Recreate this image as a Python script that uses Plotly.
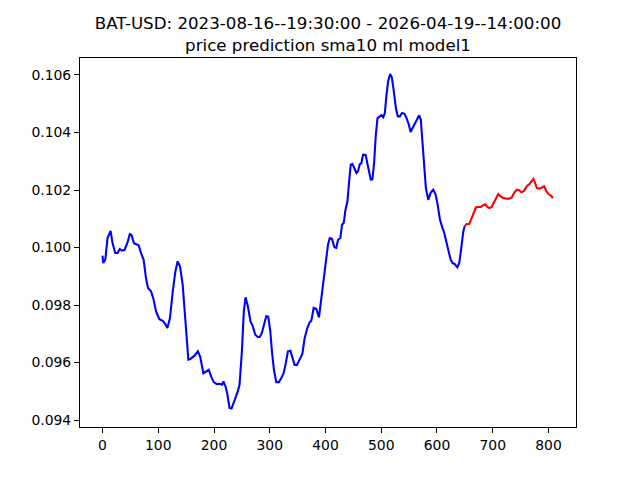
import plotly.graph_objects as go

# Historical (blue) series: index and price
hist_x = [0, 1.3, 5, 9, 14.4, 18, 22.8, 27, 31, 35, 39.6, 45, 49, 52, 56.4, 60, 64.8, 69, 73.7, 78,
          81.6, 87, 91, 96, 102, 108, 112.7, 116.3, 121, 126, 130.7, 134.8, 139, 143.8, 148.7, 154,
          157.5, 165, 171, 175, 181, 185.7, 190.6, 194.8, 199.6, 205, 210, 214.6, 217, 220.6, 223.6,
          227.8, 231.4, 235, 238.6, 242.7, 245.8, 250, 253.5, 256.6, 260.8, 265.5, 269.7, 274, 278.7,
          282, 285.9, 290, 293.7, 297.3, 301, 303.9, 307.5, 311.7, 316.5, 320.7, 324.9, 328.5, 332.6,
          337, 340.5, 344.6, 348.8, 353.6, 358.5, 362.6, 367.4, 371.6, 374.5, 378.8, 383.6, 388.3,
          392.6, 396.8, 400.4, 404.5, 407.6, 411.6, 416, 419.4, 422.5, 426.6, 429.7, 432.7, 435.8,
          439.4, 442.4, 445.3, 448.3, 451.3, 455.5, 458.5, 461.5, 464.4, 467.4, 472, 475.3, 478.2,
          481.2, 484.2, 487.2, 490.3, 493.3, 497.5, 500.5, 503.5, 506.5, 509.5, 512.4, 516, 519,
          522.6, 526.2, 529.8, 533.4, 537.5, 541.7, 545.4, 549.6, 552.6, 557.4, 561.6, 564.6, 568,
          571, 574.2, 577.1, 580.1, 584.3, 588.6, 593.3, 597.6, 601.2, 605.3, 609.5, 613, 617.3,
          620.9, 624.5, 628, 631.6, 636.4, 640, 643.6, 647.2, 649.7]
hist_y = [0.09972, 0.09946, 0.09958, 0.10033, 0.10058, 0.10016, 0.09981, 0.09981, 0.09995, 0.09989,
          0.09992, 0.10019, 0.10047, 0.10044, 0.10015, 0.10013, 0.10008, 0.09981, 0.09958, 0.09894,
          0.09859, 0.09848, 0.09824, 0.09778, 0.09751, 0.09745, 0.09734, 0.09720, 0.09755, 0.09848,
          0.09917, 0.09952, 0.09935, 0.09871, 0.09731, 0.09610, 0.09612, 0.09624, 0.09639, 0.09622,
          0.09563, 0.09568, 0.09575, 0.09552, 0.09532, 0.09525, 0.09526, 0.09523, 0.09535, 0.09517,
          0.09494, 0.09442, 0.09440, 0.09459, 0.09477, 0.09500, 0.09523, 0.09639, 0.09778, 0.09827,
          0.09795, 0.09743, 0.09726, 0.09697, 0.09689, 0.09689, 0.09703, 0.09731, 0.09761, 0.09760,
          0.09709, 0.09639, 0.09575, 0.09532, 0.09532, 0.09546, 0.09563, 0.09595, 0.09639, 0.09641,
          0.09622, 0.09592, 0.09592, 0.09610, 0.09630, 0.09685, 0.09720, 0.09740, 0.09745, 0.09790,
          0.09787, 0.09757, 0.09824, 0.09894, 0.09963, 0.10010, 0.10033, 0.10030, 0.10001, 0.09999,
          0.10027, 0.10033, 0.10079, 0.10085, 0.10131, 0.10161, 0.10230, 0.10288, 0.10291, 0.10277,
          0.10259, 0.10266, 0.10290, 0.10293, 0.10323, 0.10322, 0.10294, 0.10259, 0.10236, 0.10237,
          0.10294, 0.10392, 0.10450, 0.10456, 0.10460, 0.10453, 0.10468, 0.10532, 0.10578, 0.10603,
          0.10592, 0.10543, 0.10485, 0.10456, 0.10456, 0.10468, 0.10465, 0.10450, 0.10427, 0.10402,
          0.10421, 0.10438, 0.10444, 0.10460, 0.10444, 0.10369, 0.10277, 0.10207, 0.10166, 0.10190,
          0.10201, 0.10184, 0.10149, 0.10097, 0.10070, 0.10051, 0.10016, 0.09981, 0.09958, 0.09946,
          0.09943, 0.09931, 0.09946, 0.09998, 0.10056, 0.10074]

# Prediction (red) series
pred_x = [649.7, 653.3, 658, 662.3, 666.4, 670, 674.2, 678.4, 683.2, 686.8, 690.4, 693.9, 698, 702.2,
          707, 710, 714.2, 719, 723.8, 729.8, 734, 738.4, 743.2, 747.4, 751.6, 756.4, 761.1, 766,
          770.2, 773.1, 776.1, 779.1, 784, 788, 792.3, 795.9, 800, 804.3, 808]
pred_y = [0.10074, 0.10082, 0.10082, 0.10103, 0.10126, 0.10140, 0.10141, 0.10141, 0.10147, 0.10150,
          0.10141, 0.10137, 0.10141, 0.10157, 0.10178, 0.10186, 0.10178, 0.10172, 0.10170, 0.10170,
          0.10174, 0.10190, 0.10201, 0.10199, 0.10192, 0.10197, 0.10213, 0.10221, 0.10232, 0.10239,
          0.10224, 0.10207, 0.10205, 0.10209, 0.10213, 0.10197, 0.10186, 0.10181, 0.10172]

x_ticks = [0, 100, 200, 300, 400, 500, 600, 700, 800]
y_ticks = [0.094, 0.096, 0.098, 0.100, 0.102, 0.104, 0.106]

title_text = "BAT-USD: 2023-08-16--19:30:00 - 2026-04-19--14:00:00<br>price prediction sma10 ml model1"

fig = go.Figure()
fig.add_trace(go.Scatter(x=hist_x, y=hist_y, mode="lines",
                         line=dict(color="#0000ff", width=2.08), showlegend=False))
fig.add_trace(go.Scatter(x=pred_x, y=pred_y, mode="lines",
                         line=dict(color="#ff0000", width=2.08), showlegend=False))

axis_common = dict(showgrid=False, zeroline=False, showline=True, linecolor="black", linewidth=1,
                   mirror=True, ticks="outside", ticklen=5, tickwidth=1, tickcolor="black",
                   automargin=False,
                   tickfont=dict(family="DejaVu Sans", size=13.9, color="black"))

# The page body adds an 8px offset, so margins are shifted to compensate.
fig.update_layout(
    width=640, height=480,
    margin=dict(l=72, r=72, t=50, b=61, autoexpand=False),
    paper_bgcolor="white", plot_bgcolor="white",
    title=dict(text=title_text, x=0.5, xref="paper", xanchor="center",
               y=1 - 21 / 480, yref="container", yanchor="middle",
               font=dict(family="DejaVu Sans", size=16.67, color="black")),
    xaxis=dict(range=[-40.4, 849.4], tickvals=x_ticks, ticktext=[str(v) for v in x_ticks], **axis_common),
    yaxis=dict(range=[0.09376, 0.10659], tickvals=y_ticks, ticktext=[f"{v:.3f}" for v in y_ticks], **axis_common),
)

fig.write_html("out.html")
